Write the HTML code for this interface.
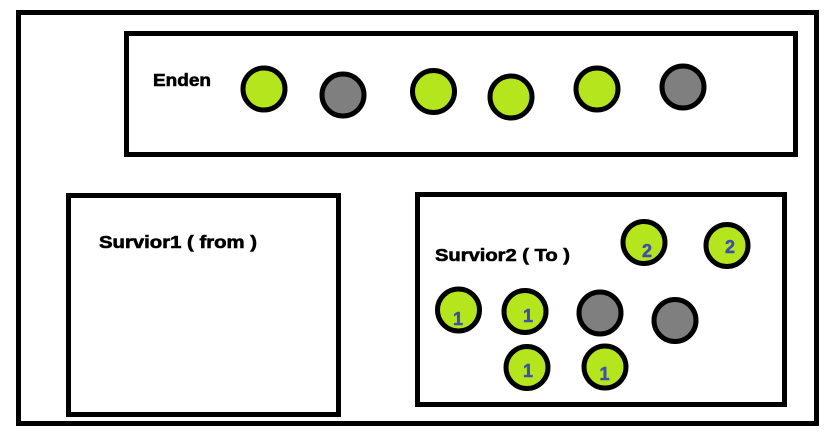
<!DOCTYPE html>
<html>
<head>
<meta charset="utf-8">
<style>
html,body{margin:0;padding:0;background:#fff;}
svg{display:block;}
text{font-family:"Liberation Sans","DejaVu Sans",sans-serif;font-weight:bold;}
</style>
</head>
<body>
<svg width="832" height="438" viewBox="0 0 832 438" xmlns="http://www.w3.org/2000/svg">
  <rect x="0" y="0" width="832" height="438" fill="#fff"/>
  <!-- outer -->
  <rect x="18.5" y="12.5" width="798" height="411" fill="none" stroke="#000" stroke-width="5"/>
  <!-- Eden -->
  <rect x="126.5" y="33.5" width="669" height="121" fill="none" stroke="#000" stroke-width="5"/>
  <!-- Survivor1 -->
  <rect x="68.5" y="195.5" width="270" height="219" fill="none" stroke="#000" stroke-width="5"/>
  <!-- Survivor2 -->
  <rect x="417.5" y="194.5" width="367" height="210" fill="none" stroke="#000" stroke-width="5"/>

  <g fill="#000" stroke="#000" stroke-width="0.6">
    <text x="153" y="86" font-size="17.5" textLength="58" lengthAdjust="spacingAndGlyphs">Enden</text>
    <text x="99" y="248" font-size="17.5" textLength="158" lengthAdjust="spacingAndGlyphs">Survior1 ( from )</text>
    <text x="435" y="261" font-size="17.5" textLength="135" lengthAdjust="spacingAndGlyphs">Survior2 ( To )</text>
  </g>

  <g stroke="#000" stroke-width="5">
    <!-- Eden circles -->
    <circle cx="264" cy="89" r="21" fill="#b5e61d"/>
    <circle cx="343" cy="95" r="21" fill="#7f7f7f"/>
    <circle cx="433.5" cy="91.5" r="21" fill="#b5e61d"/>
    <circle cx="511" cy="97" r="21" fill="#b5e61d"/>
    <circle cx="597" cy="89" r="21" fill="#b5e61d"/>
    <circle cx="683" cy="87" r="21" fill="#7f7f7f"/>
    <!-- Survivor2 circles -->
    <circle cx="644" cy="242.5" r="21" fill="#b5e61d"/>
    <circle cx="727" cy="245.5" r="21" fill="#b5e61d"/>
    <circle cx="458.5" cy="310" r="21" fill="#b5e61d"/>
    <circle cx="525" cy="311.5" r="21" fill="#b5e61d"/>
    <circle cx="600" cy="313" r="21" fill="#7f7f7f"/>
    <circle cx="675" cy="320.5" r="21" fill="#7f7f7f"/>
    <circle cx="527" cy="367.5" r="21" fill="#b5e61d"/>
    <circle cx="605" cy="367" r="21" fill="#b5e61d"/>
  </g>

  <g fill="#3f4fb0" stroke="#3f4fb0" stroke-width="0.5" font-size="18" text-anchor="middle">
    <text x="647" y="257">2</text>
    <text x="730" y="253">2</text>
    <text x="458" y="325">1</text>
    <text x="528" y="322">1</text>
    <text x="528" y="377">1</text>
    <text x="604.5" y="380">1</text>
  </g>
</svg>
</body>
</html>
